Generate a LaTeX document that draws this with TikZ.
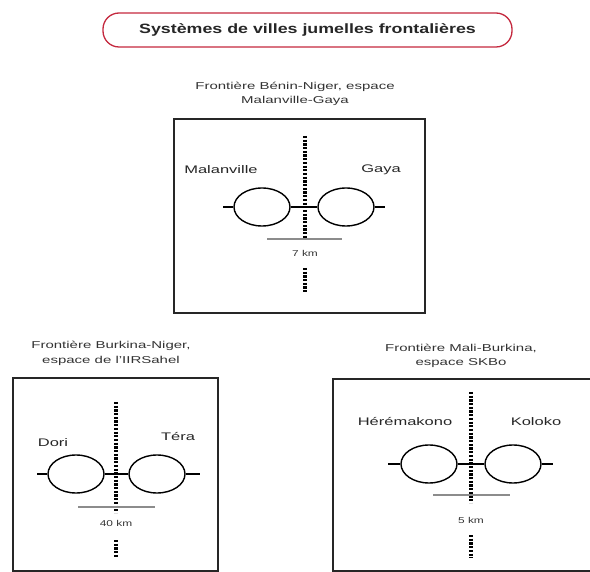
\documentclass[tikz,border=0pt]{standalone}
\usepackage{fontspec}
\setmainfont{Liberation Sans}
\usepackage{graphicx}
\usetikzlibrary{shapes.geometric}

\definecolor{rougecadre}{RGB}{196,40,62}
\newcommand{\etire}[2][1.5]{\scalebox{#1}[1]{#2}}

\tikzset{
  ville/.style={ellipse,draw,fill=white,line width=1.4pt,minimum width=56pt,minimum height=38pt,inner sep=0pt},
  frontiere/.style={line width=3.2pt,dash pattern=on 2.2pt off 1.5pt},
  cadre/.style={draw=black!85,line width=1.8pt},
  echelle/.style={black!45,line width=1.3pt},
  lien/.style={line width=1.3pt},
  etiquette/.style={text=black!85,font=\fontsize{11}{13}\selectfont,inner sep=0pt},
  legende/.style={text=black!80,align=center,font=\fontsize{10}{14.5}\selectfont,inner sep=0pt},
  ecart/.style={text=black!80,font=\fontsize{8.5}{9}\selectfont,inner sep=0pt}
}

\begin{document}
\begin{tikzpicture}[x=1pt,y=-1pt]
\useasboundingbox (0,0) rectangle (590,572);

% Titre
\node[draw=rougecadre,line width=1.3pt,rounded corners=16pt,minimum width=409pt,minimum height=34pt,
  font=\bfseries\fontsize{13.5}{15}\selectfont,text=black!85] (titre) at (307.5,30)
  {\etire[1.32]{Systèmes de villes jumelles frontalières}};

% Espace Malanville-Gaya
\node[legende] (legmg) at (295,94) {\etire{Frontière Bénin-Niger, espace}\\\etire{Malanville-Gaya}};
\draw[cadre] (174,119) rectangle (425,313);
\draw[frontiere] (305,136) -- (305,238);
\draw[frontiere] (305,268) -- (305,293);
\draw[echelle] (267,239) -- (342,239);
\node[ecart] (dmg) at (305,253) {\etire[1.4]{7 km}};
\node[ville] (mal) at (262,207) {};
\node[ville] (gay) at (346,207) {};
\coordinate (mgg) at (223,207);
\coordinate (mgd) at (385,207);
\draw[lien] (mgg) -- (mal.west);
\draw[lien] (mal.east) -- (gay.west);
\draw[lien] (gay.east) -- (mgd);
\node[etiquette] (tmal) at (221,170) {\etire{Malanville}};
\node[etiquette] (tgay) at (381,170) {\etire{Gaya}};

% Espace de l'IIRSahel
\node[legende] (legdt) at (111,353.5) {\etire{Frontière Burkina-Niger,}\\\etire{espace de l'IIRSahel}};
\draw[cadre] (13,378) rectangle (218,571);
\draw[frontiere] (116,402) -- (116,513);
\draw[frontiere] (116,540) -- (116,558);
\draw[echelle] (78,507) -- (155,507);
\node[ecart] (ddt) at (116,523) {\etire[1.4]{40 km}};
\node[ville] (dor) at (76,474) {};
\node[ville] (ter) at (157,474) {};
\coordinate (dtg) at (37,474);
\coordinate (dtd) at (200,474);
\draw[lien] (dtg) -- (dor.west);
\draw[lien] (dor.east) -- (ter.west);
\draw[lien] (ter.east) -- (dtd);
\node[etiquette] (tdor) at (53,443) {\etire{Dori}};
\node[etiquette] (tter) at (178,437) {\etire{Téra}};

% Espace SKBo
\node[legende] (leghk) at (461,356) {\etire{Frontière Mali-Burkina,}\\\etire{espace SKBo}};
\draw[cadre] (333,379) rectangle (596,571);
\draw[frontiere] (471,392) -- (471,503);
\draw[frontiere] (471,535) -- (471,558);
\draw[echelle] (433,495) -- (510,495);
\node[ecart] (dhk) at (471,520) {\etire[1.4]{5 km}};
\node[ville] (her) at (429,464) {};
\node[ville] (kol) at (513,464) {};
\coordinate (hkg) at (388,464);
\coordinate (hkd) at (553,464);
\draw[lien] (hkg) -- (her.west);
\draw[lien] (her.east) -- (kol.west);
\draw[lien] (kol.east) -- (hkd);
\node[etiquette] (ther) at (405,422) {\etire{Hérémakono}};
\node[etiquette] (tkol) at (536,422) {\etire{Koloko}};

\end{tikzpicture}
\end{document}
